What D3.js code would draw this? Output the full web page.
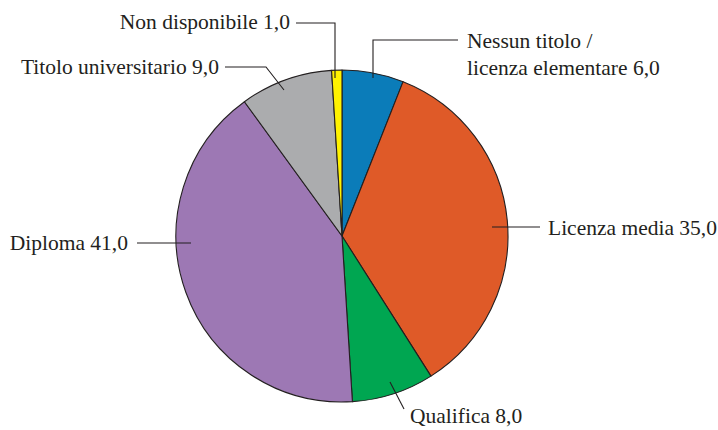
<!DOCTYPE html>
<html>
<head>
<meta charset="utf-8">
<script src="https://cdn.jsdelivr.net/npm/d3@7"></script>
</head>
<body style="margin:0; background:#fff">
<script>
const categories = ["Nessun titolo / licenza elementare", "Licenza media", "Qualifica", "Diploma", "Titolo universitario", "Non disponibile"];
const values = [6.0, 35.0, 8.0, 41.0, 9.0, 1.0];
const colors = ["#0b7cb9", "#df5a28", "#00a651", "#9d78b4", "#abacae", "#fff200"];

// label text lines, anchor and leader geometry (relative to pie centre)
const labelLines = [
  ["Nessun titolo /", "licenza elementare 6,0"],
  ["Licenza media 35,0"],
  ["Qualifica 8,0"],
  ["Diploma 41,0"],
  ["Titolo universitario 9,0"],
  ["Non disponibile 1,0"]
];
const labelPos = [
  { x: 125, y: -188, anchor: "start", leader: [[31, -158], [31, -196], [116, -196]] },
  { x: 206, y: -1, anchor: "start", leader: [[150, -9], [198, -9]] },
  { x: 68, y: 187, anchor: "start", leader: [[48, 146], [62, 173]] },
  { x: -214, y: 14, anchor: "end", leader: [[-151, 7], [-205, 7]] },
  { x: -123, y: -162, anchor: "end", leader: [[-58, -146], [-76, -169], [-117, -169]] },
  { x: -52, y: -207, anchor: "end", leader: [[-7, -158], [-7, -213], [-46, -213]] }
];

const width = 718, height = 430;
const cx = 342, cy = 236, radius = 166;

const svg = d3.select("body").append("svg")
  .attr("width", width)
  .attr("height", height);

const g = svg.append("g").attr("transform", `translate(${cx},${cy})`);

const pie = d3.pie().sort(null).value(d => d);
const arc = d3.arc().innerRadius(0).outerRadius(radius);
const arcs = pie(values);

g.selectAll("path.slice")
  .data(arcs)
  .enter().append("path")
  .attr("class", "slice")
  .attr("d", arc)
  .attr("fill", (d, i) => colors[i])
  .attr("stroke", "#231f20")
  .attr("stroke-width", 1.1)
  .attr("stroke-linejoin", "round");

const line = d3.line();

g.selectAll("path.leader")
  .data(labelPos)
  .enter().append("path")
  .attr("class", "leader")
  .attr("d", d => line(d.leader))
  .attr("fill", "none")
  .attr("stroke", "#231f20")
  .attr("stroke-width", 1.1);

const labels = g.selectAll("text.label")
  .data(labelPos)
  .enter().append("text")
  .attr("class", "label")
  .attr("x", d => d.x)
  .attr("y", d => d.y)
  .attr("font-family", "'Liberation Serif', serif")
  .attr("font-size", 21.5)
  .attr("fill", "#231f20")
  .attr("text-anchor", d => d.anchor);

labels.each(function(d, i) {
  const t = d3.select(this);
  labelLines[i].forEach((s, j) => {
    t.append("tspan")
      .attr("x", d.x)
      .attr("dy", j === 0 ? 0 : 27)
      .text(s);
  });
});
</script>
</body>
</html>
